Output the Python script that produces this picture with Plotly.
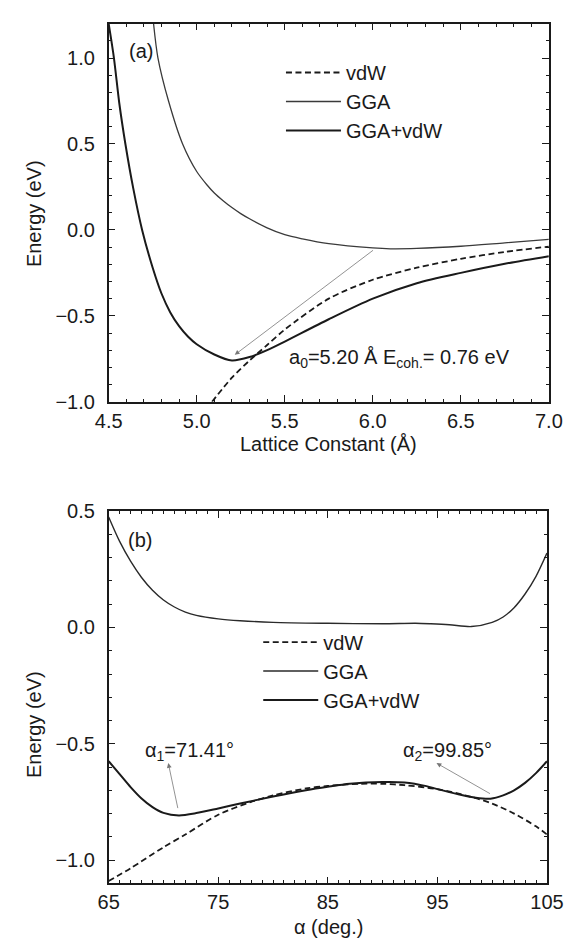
import plotly.graph_objects as go

# ---------------- (a) energy vs lattice constant ----------------
lat_vdw = [5.087, 5.20, 5.30, 5.40, 5.50, 5.75, 6.00, 6.25, 6.50, 6.75, 7.00]
e_vdw_a = [-1.00, -0.86, -0.76, -0.67, -0.58, -0.40, -0.29, -0.22, -0.168, -0.128, -0.097]

lat_gga = [4.755, 4.78, 4.84, 4.92, 5.00, 5.06, 5.10, 5.15, 5.20, 5.25, 5.30, 5.40, 5.50, 5.60, 5.75,
           6.00, 6.10, 6.25, 6.50, 6.75, 7.00]
e_gga_a = [1.20, 1.00, 0.75, 0.50, 0.34, 0.26, 0.215, 0.17, 0.13, 0.095, 0.065, 0.012, -0.028, -0.052, -0.08,
           -0.105, -0.11, -0.108, -0.095, -0.075, -0.055]

lat_tot = [4.50, 4.53, 4.56, 4.595, 4.64, 4.69, 4.75, 4.80, 4.85, 4.90, 4.95, 5.00, 5.10, 5.20, 5.30, 5.40,
           5.50, 5.75, 6.00, 6.25, 6.50, 6.75, 7.00]
e_tot_a = [1.20, 1.00, 0.74, 0.50, 0.24, 0.00, -0.22, -0.37, -0.48, -0.56, -0.62, -0.665, -0.725, -0.76, -0.74,
           -0.70, -0.65, -0.52, -0.40, -0.31, -0.25, -0.197, -0.153]

A0 = 5.20       # equilibrium lattice constant (Å)
E_COH = 0.76    # cohesive energy (eV)

# ---------------- (b) energy vs rhombohedral angle ----------------
ang_vdw = [65, 67, 70, 72, 75, 78, 80, 83, 85, 88, 90, 92, 95, 98, 100, 102, 104, 105]
e_vdw_b = [-1.09, -1.035, -0.945, -0.89, -0.805, -0.75, -0.722, -0.692, -0.681, -0.672, -0.672, -0.678,
           -0.695, -0.727, -0.757, -0.80, -0.855, -0.89]

ang_gga = [65, 66, 67, 68, 69, 70, 71, 72, 73, 75, 77, 80, 85, 90, 93, 94.4, 96.1, 98.1, 100, 101, 102, 103,
           104, 105]
e_gga_b = [0.475, 0.37, 0.285, 0.215, 0.16, 0.118, 0.088, 0.066, 0.052, 0.037, 0.029, 0.022, 0.018, 0.016,
           0.018, 0.016, 0.012, 0.004, 0.022, 0.045, 0.085, 0.144, 0.22, 0.32]

ang_tot = [65, 66, 67, 68, 69, 70, 71.41, 73, 75, 77, 80, 83, 85, 87, 90, 92, 94, 95, 97, 98.5, 99.85,
           101, 102, 103, 104, 105]
e_tot_b = [-0.575, -0.63, -0.686, -0.735, -0.772, -0.797, -0.808, -0.798, -0.778, -0.757, -0.727, -0.700,
           -0.685, -0.672, -0.664, -0.666, -0.682, -0.695, -0.718, -0.732, -0.736, -0.722, -0.700, -0.668,
           -0.626, -0.575]

ALPHA1 = 71.41
ALPHA2 = 99.85

FONT = "Liberation Sans, Arial, Helvetica, sans-serif"
INK = "#1a1a1a"
W, H = 581, 952


def px_x(p):
    return p / W


def px_y(p):
    return 1 - p / H


fig = go.Figure()

dash = "6px,3.5px"

# panel (a)
fig.add_trace(go.Scatter(x=lat_vdw, y=e_vdw_a, mode="lines", name="vdW",
                         line=dict(color=INK, width=1.8, dash=dash, shape="spline", smoothing=0.8),
                         xaxis="x", yaxis="y", legend="legend"))
fig.add_trace(go.Scatter(x=lat_gga, y=e_gga_a, mode="lines", name="GGA",
                         line=dict(color="#3a3a3a", width=1.3, shape="spline", smoothing=0.8),
                         xaxis="x", yaxis="y", legend="legend"))
fig.add_trace(go.Scatter(x=lat_tot, y=e_tot_a, mode="lines", name="GGA+vdW",
                         line=dict(color=INK, width=2.0, shape="spline", smoothing=0.8),
                         xaxis="x", yaxis="y", legend="legend"))

# panel (b)
fig.add_trace(go.Scatter(x=ang_vdw, y=e_vdw_b, mode="lines", name="vdW",
                         line=dict(color=INK, width=1.8, dash=dash, shape="spline", smoothing=0.8),
                         xaxis="x2", yaxis="y2", legend="legend2"))
fig.add_trace(go.Scatter(x=ang_gga, y=e_gga_b, mode="lines", name="GGA",
                         line=dict(color="#2a2a2a", width=1.4, shape="spline", smoothing=0.8),
                         xaxis="x2", yaxis="y2", legend="legend2"))
fig.add_trace(go.Scatter(x=ang_tot, y=e_tot_b, mode="lines", name="GGA+vdW",
                         line=dict(color=INK, width=2.0, shape="spline", smoothing=0.8),
                         xaxis="x2", yaxis="y2", legend="legend2"))

axis_common = dict(
    showgrid=False, zeroline=False, showline=True, linecolor=INK, linewidth=1.5,
    mirror="allticks", ticks="inside", ticklen=7, tickwidth=1.2, tickcolor=INK,
    tickfont=dict(family=FONT, size=20, color=INK),
)

fig.update_layout(
    width=W, height=H,
    margin=dict(l=0, r=0, t=0, b=0),
    paper_bgcolor="white", plot_bgcolor="white",
    font=dict(family=FONT, size=20, color=INK),
    xaxis=dict(axis_common, domain=[px_x(100), px_x(565)], range=[4.5, 7.0],
               tickvals=[4.5, 5.0, 5.5, 6.0, 6.5, 7.0], tickformat=".1f",
               minor=dict(dtick=0.1, ticks="inside", ticklen=3.5, tickcolor=INK),
               ticklabelstandoff=0, anchor="y"),
    yaxis=dict(axis_common, domain=[px_y(400), px_y(13)], range=[-1.0, 1.2],
               tickvals=[-1.0, -0.5, 0.0, 0.5, 1.0], tickformat=".1f",
               minor=dict(dtick=0.1, tick0=0, ticks="inside", ticklen=3.5, tickcolor=INK),
               ticklabelstandoff=8, anchor="x"),
    xaxis2=dict(axis_common, domain=[px_x(100), px_x(563)], range=[65, 105],
                tickvals=[65, 75, 85, 95, 105],
                minor=dict(dtick=1, tick0=65, ticks="inside", ticklen=3.5, tickcolor=INK),
                ticklabelstandoff=0, anchor="y2"),
    yaxis2=dict(axis_common, domain=[px_y(893), px_y(512)], range=[-1.1, 0.5],
                tickvals=[-1.0, -0.5, 0.0, 0.5], tickformat=".1f",
                minor=dict(dtick=0.1, tick0=0, ticks="inside", ticklen=3.5, tickcolor=INK),
                ticklabelstandoff=8, anchor="x2"),
    legend=dict(x=px_x(282), y=px_y(43), xanchor="left", yanchor="top",
                bgcolor="rgba(0,0,0,0)", borderwidth=0, itemwidth=55,
                font=dict(family=FONT, size=20, color=INK), tracegroupgap=0),
    legend2=dict(x=px_x(258), y=px_y(626), xanchor="left", yanchor="top",
                 bgcolor="rgba(0,0,0,0)", borderwidth=0, itemwidth=55,
                 font=dict(family=FONT, size=20, color=INK), tracegroupgap=0),
    showlegend=True,
)

ann = []
# axis titles
centered = dict(xanchor="center", yanchor="middle", showarrow=False, font=dict(size=20))
ann.append(dict(centered, text="Lattice Constant (Å)", x=px_x(332), y=px_y(443), xref="paper", yref="paper"))
ann.append(dict(centered, text="α (deg.)", x=px_x(332), y=px_y(938), xref="paper", yref="paper"))
ann.append(dict(centered, text="Energy (eV)", x=px_x(21), y=px_y(207), xref="paper", yref="paper",
                textangle=-90))
ann.append(dict(centered, text="Energy (eV)", x=px_x(21), y=px_y(730), xref="paper", yref="paper",
                textangle=-90))

# panel labels
ann.append(dict(centered, text="(a)", x=4.683, y=1.04, xref="x", yref="y"))
ann.append(dict(centered, text="(b)", x=67.9, y=0.377, xref="x2", yref="y2"))

# equilibrium point of (a)
ann.append(dict(centered, text=f"a<sub>0</sub>={A0:.2f} Å E<sub>coh.</sub>= {E_COH:.2f} eV",
                x=6.15, y=-0.75, xref="x", yref="y"))
ann.append(dict(text="", x=A0 + 0.016, y=-E_COH + 0.033, xref="x", yref="y",
                ax=6.01, ay=-0.112, axref="x", ayref="y",
                showarrow=True, arrowhead=2, arrowsize=1.2, arrowwidth=0.8, arrowcolor="#777"))

# minima of (b)
ann.append(dict(centered, text=f"α<sub>1</sub>={ALPHA1:.2f}°", x=72.4, y=-0.535, xref="x2", yref="y2"))
ann.append(dict(centered, text=f"α<sub>2</sub>={ALPHA2:.2f}°", x=95.95, y=-0.535, xref="x2", yref="y2"))
ann.append(dict(text="", x=70.44, y=-0.583, xref="x2", yref="y2",
                ax=ALPHA1 - 0.07, ay=-0.783, axref="x2", ayref="y2",
                showarrow=True, arrowhead=2, arrowsize=1.2, arrowwidth=0.8, arrowcolor="#777"))
ann.append(dict(text="", x=94.92, y=-0.583, xref="x2", yref="y2",
                ax=ALPHA2 + 0.09, ay=-0.718, axref="x2", ayref="y2",
                showarrow=True, arrowhead=2, arrowsize=1.2, arrowwidth=0.8, arrowcolor="#777"))

fig.update_layout(annotations=ann)

fig.write_html("out.html")
